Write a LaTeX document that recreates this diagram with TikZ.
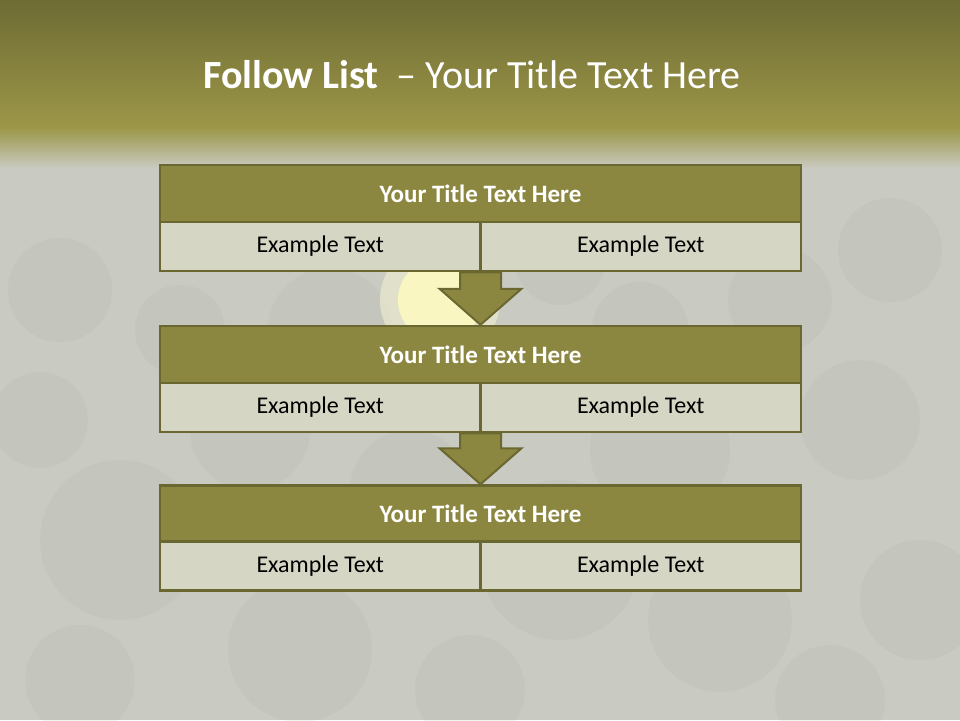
\documentclass[tikz,border=0pt]{standalone}
\usepackage{fontspec}
\setmainfont{Carlito}
\usetikzlibrary{calc}
\definecolor{olivetop}{HTML}{6E6B34}
\definecolor{olivemid}{HTML}{9C9748}
\definecolor{bggray}{HTML}{C9CAC1}
\definecolor{bubble}{HTML}{A9AAA2}
\definecolor{hdrfill}{HTML}{8C8740}
\definecolor{hdrline}{HTML}{6A6830}
\definecolor{cellfill}{HTML}{D6D6C4}
\tikzset{
  hdr/.style={draw=hdrline, line width=2.5pt, fill=hdrfill, text=white,
    font=\fontsize{25}{29}\selectfont\bfseries, minimum width=641pt,
    minimum height=57pt, inner sep=0pt},
  cell/.style={draw=hdrline, line width=2.5pt, fill=cellfill, text=black,
    font=\fontsize{24}{28}\selectfont, minimum width=320.5pt,
    minimum height=49pt, inner sep=0pt},
  blockarrow/.style={draw=hdrline, line width=2pt, fill=hdrfill, line join=miter},
  bub/.style={fill=bubble, opacity=0.14},
}
\begin{document}
\begin{tikzpicture}[x=1pt,y=-1pt]
\useasboundingbox (0,0) rectangle (960,720);
% background
\fill[bggray] (0,0) rectangle (960,720);
% bubbles
\foreach \x/\y/\r in {330/330/62, 250/430/60, 120/540/80, 300/650/72, 720/620/72,
  660/450/70, 860/420/60, 890/250/52, 60/290/52, 780/300/52, 410/490/60,
  560/560/80, 40/420/48, 920/600/60, 470/690/55, 180/330/45, 640/330/48,
  80/680/55, 830/700/55, 560/260/45}
  \fill[bub] (\x,\y) circle (\r);
% glow
\fill[yellow!15!white, opacity=0.45] (440,300) circle (60);
\fill[yellow!25!white, opacity=0.8] (440,300) circle (42);
% top band
\shade[top color=olivetop, bottom color=olivemid] (0,0) rectangle (960,128);
\shade[top color=olivemid, bottom color=bggray] (0,128) rectangle (960,168);
% title
\node[anchor=base, text=white, font=\fontsize{40}{44}\selectfont] (title) at (472,88)
  {\textbf{Follow List}\ \ – Your Title Text Here};
% box 1
\node[hdr] (t1) at (480.5,193.5) {Your Title Text Here};
\node[cell] (e1l) at (320.25,246.5) {Example Text};
\node[cell] (e1r) at (640.75,246.5) {Example Text};
% box 2
\node[hdr] (t2) at (480.5,354.5) {Your Title Text Here};
\node[cell] (e2l) at (320.25,407.5) {Example Text};
\node[cell] (e2r) at (640.75,407.5) {Example Text};
% box 3
\node[hdr] (t3) at (480.5,514) {Your Title Text Here};
\node[cell] (e3l) at (320.25,566) {Example Text};
\node[cell] (e3r) at (640.75,566) {Example Text};
% arrows
\coordinate (a1s) at ($(e1l.south east)!0.5!(e1r.south west)$);
\coordinate (a1e) at (t2.north);
\draw[blockarrow] ($(a1s)+(-20.5,0)$) -- ($(a1s)+(20.5,0)$) -- ($(a1s)+(20.5,16.5)$)
  -- ($(a1s)+(41,16.5)$) -- (a1e) -- ($(a1s)+(-41,16.5)$) -- ($(a1s)+(-20.5,16.5)$) -- cycle;
\coordinate (a2s) at ($(e2l.south east)!0.5!(e2r.south west)$);
\coordinate (a2e) at (t3.north);
\draw[blockarrow] ($(a2s)+(-20.5,0)$) -- ($(a2s)+(20.5,0)$) -- ($(a2s)+(20.5,15)$)
  -- ($(a2s)+(41,15)$) -- (a2e) -- ($(a2s)+(-41,15)$) -- ($(a2s)+(-20.5,15)$) -- cycle;
\end{tikzpicture}
\end{document}
